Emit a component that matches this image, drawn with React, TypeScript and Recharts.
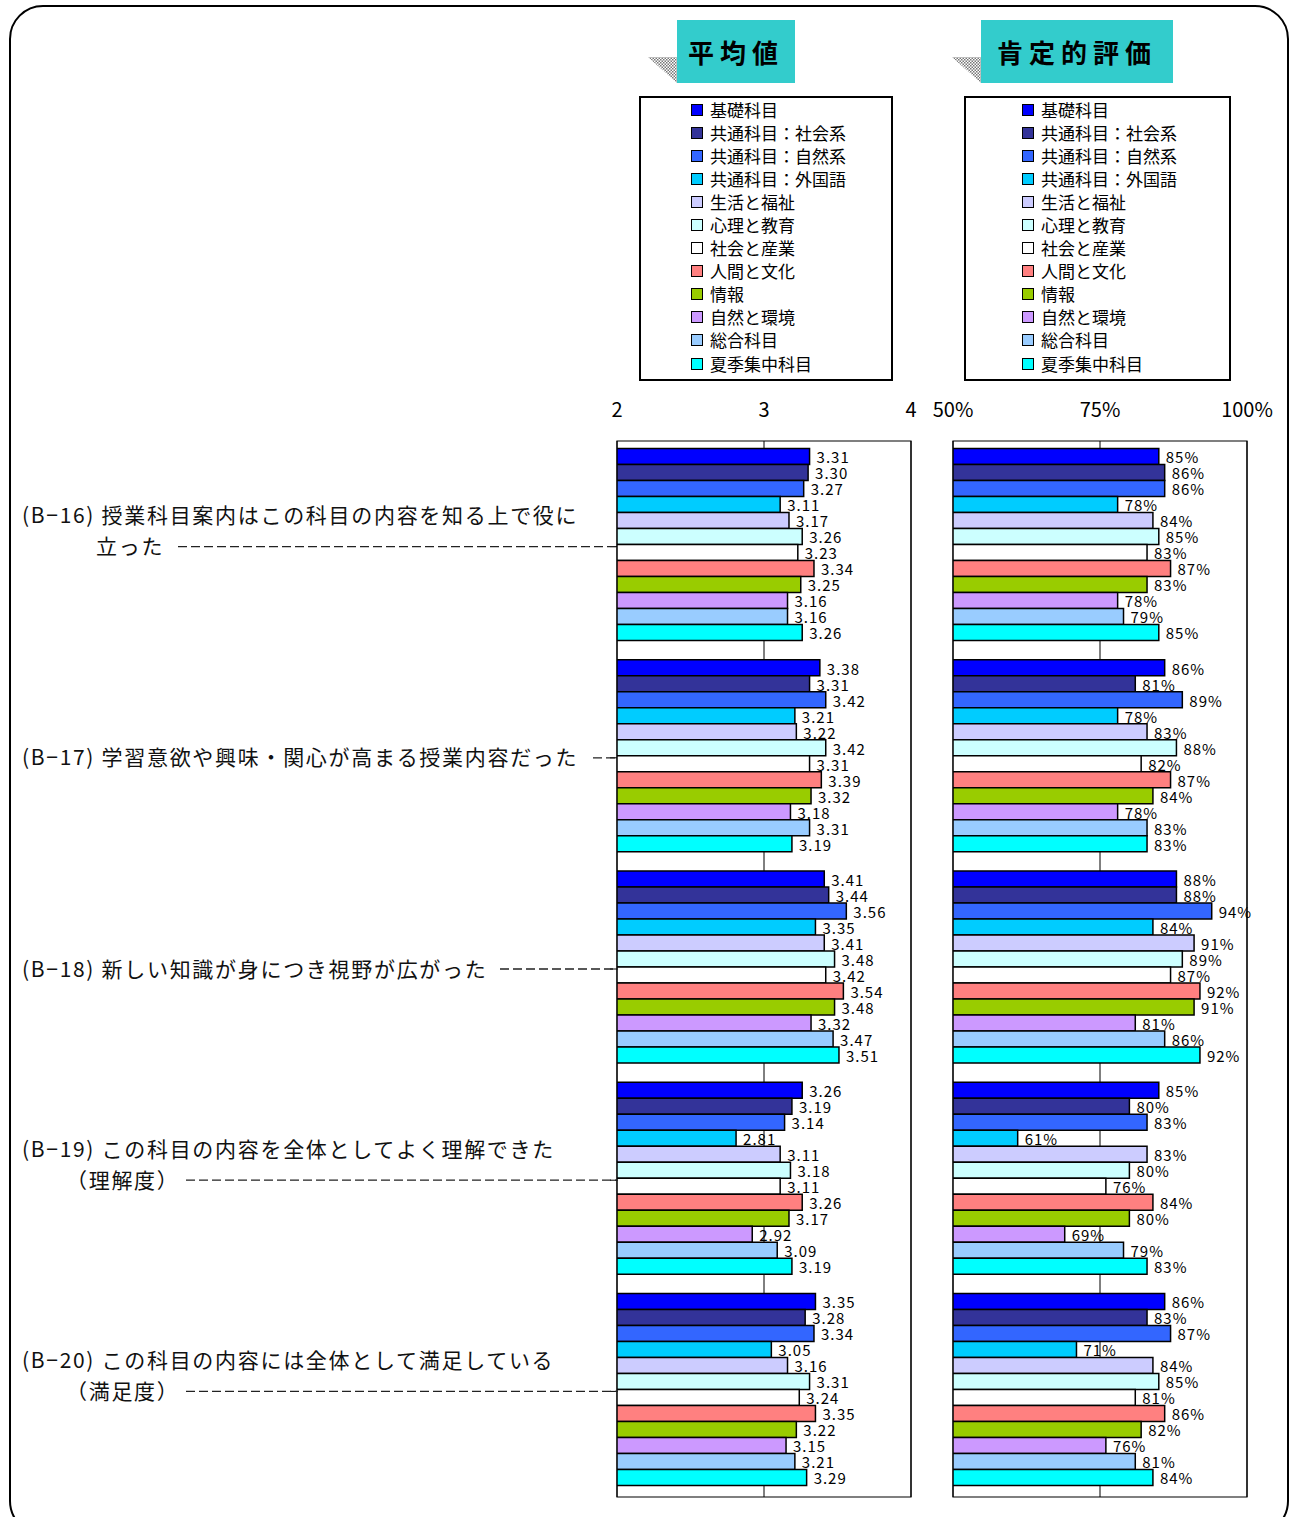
import {
  Bar,
  BarChart,
  CartesianGrid,
  LabelList,
  Legend,
  ReferenceArea,
  XAxis,
  YAxis,
} from "recharts";

const QUESTIONS = ["B-16", "B-17", "B-18", "B-19", "B-20"];
const QUESTION_LINES = [
  ["(B−16) 授業科目案内はこの科目の内容を知る上で役に", "立った"],
  ["(B−17) 学習意欲や興味・関心が高まる授業内容だった"],
  ["(B−18) 新しい知識が身につき視野が広がった"],
  ["(B−19) この科目の内容を全体としてよく理解できた", "（理解度）"],
  ["(B−20) この科目の内容には全体として満足している", "（満足度）"],
];

const SERIES = [
  "基礎科目",
  "共通科目：社会系",
  "共通科目：自然系",
  "共通科目：外国語",
  "生活と福祉",
  "心理と教育",
  "社会と産業",
  "人間と文化",
  "情報",
  "自然と環境",
  "総合科目",
  "夏季集中科目",
];

// 平均値 (one list per question, in SERIES order)
const MEAN_B16 = [3.31, 3.3, 3.27, 3.11, 3.17, 3.26, 3.23, 3.34, 3.25, 3.16, 3.16, 3.26];
const MEAN_B17 = [3.38, 3.31, 3.42, 3.21, 3.22, 3.42, 3.31, 3.39, 3.32, 3.18, 3.31, 3.19];
const MEAN_B18 = [3.41, 3.44, 3.56, 3.35, 3.41, 3.48, 3.42, 3.54, 3.48, 3.32, 3.47, 3.51];
const MEAN_B19 = [3.26, 3.19, 3.14, 2.81, 3.11, 3.18, 3.11, 3.26, 3.17, 2.92, 3.09, 3.19];
const MEAN_B20 = [3.35, 3.28, 3.34, 3.05, 3.16, 3.31, 3.24, 3.35, 3.22, 3.15, 3.21, 3.29];

// 肯定的評価 (%)
const POS_B16 = [85, 86, 86, 78, 84, 85, 83, 87, 83, 78, 79, 85];
const POS_B17 = [86, 81, 89, 78, 83, 88, 82, 87, 84, 78, 83, 83];
const POS_B18 = [88, 88, 94, 84, 91, 89, 87, 92, 91, 81, 86, 92];
const POS_B19 = [85, 80, 83, 61, 83, 80, 76, 84, 80, 69, 79, 83];
const POS_B20 = [86, 83, 87, 71, 84, 85, 81, 86, 82, 76, 81, 84];

const MEAN_TICKS = [2, 3, 4];
const POS_TICKS = [50, 75, 100];

const COLORS = [
  "#0000FF",
  "#333399",
  "#3366FF",
  "#00CCFF",
  "#CCCCFF",
  "#CCFFFF",
  "#FFFFFF",
  "#FF8080",
  "#99CC00",
  "#CC99FF",
  "#99CCFF",
  "#00FFFF",
];

const MEANS = [MEAN_B16, MEAN_B17, MEAN_B18, MEAN_B19, MEAN_B20];
const POSITIVE = [POS_B16, POS_B17, POS_B18, POS_B19, POS_B20];

function toRows(values: number[][]) {
  return QUESTIONS.map((q, qi) => {
    const row: Record<string, string | number> = { q };
    SERIES.forEach((_, si) => {
      row[`s${si}`] = values[qi][si];
    });
    return row;
  });
}

const meanRows = toRows(MEANS);
const posRows = toRows(POSITIVE);

const FONT = '"Noto Sans CJK JP", "Noto Sans", sans-serif';
const TOTAL_H = 1517;

// where the second line starts, and where the dashed leader begins
const INDENT = [96, 0, 0, 66, 66];
const DASH_FROM = [178, 593, 500, 186, 186];

function QuestionTick(props: any) {
  const { x, y, payload } = props;
  const idx = QUESTIONS.indexOf(payload.value);
  const lines = QUESTION_LINES[idx];
  const last = lines.length - 1;
  return (
    <g>
      {lines.map((t, i) => (
        <text
          key={i}
          x={i === 0 ? 22 : INDENT[idx]}
          y={y - (last - i) * 31}
          dy="0.36em"
          fontSize={21}
          letterSpacing={1.7}
          fontFamily={FONT}
          fill="#111"
        >
          {t}
        </text>
      ))}
      <line x1={DASH_FROM[idx]} x2={x + 8} y1={y} y2={y} stroke="#222" strokeWidth={1.3} strokeDasharray="9 4" />
    </g>
  );
}

function legendBox(width: number, padLeft: number) {
  return () => (
    <div
      style={{
        width,
        height: 285,
        boxSizing: "border-box",
        border: "2px solid #000",
        background: "#fff",
        paddingLeft: padLeft,
        paddingTop: 0,
        fontFamily: FONT,
        fontSize: 17,
        color: "#000",
      }}
    >
      {SERIES.map((s, i) => (
        <div key={s} style={{ display: "flex", alignItems: "center", height: 23.1 }}>
          <span
            style={{
              display: "inline-block",
              width: 10,
              height: 10,
              border: "1.5px solid #000",
              background: COLORS[i],
              marginRight: 7,
            }}
          />
          <span style={{ lineHeight: "20px" }}>{s}</span>
        </div>
      ))}
    </div>
  );
}

function Badge({ left, width, text }: { left: number; width: number; text: string }) {
  return (
    <>
      <svg style={{ position: "absolute", left: left - 29, top: 56 }} width={30} height={28}>
        <defs>
          <pattern id={`hatch${left}`} width="3" height="3" patternUnits="userSpaceOnUse">
            <rect width="3" height="3" fill="#fff" />
            <rect width="1.5" height="1.5" fill="#777" />
            <rect x="1.5" y="1.5" width="1.5" height="1.5" fill="#777" />
          </pattern>
        </defs>
        <polygon points="0,1 29,1 29,27" fill={`url(#hatch${left})`} />
      </svg>
      <div
        style={{
          position: "absolute",
          left,
          top: 20,
          width,
          height: 63,
          background: "#33CCCC",
          display: "flex",
          alignItems: "center",
          justifyContent: "center",
          fontFamily: FONT,
          fontWeight: 700,
          fontSize: 26,
          letterSpacing: 6,
          color: "#000",
        }}
      >
        {text}
      </div>
    </>
  );
}

const labelStyle = { fontSize: 15, fontFamily: FONT, fill: "#000", letterSpacing: 1 };
const tickStyle = { fontSize: 20, fontFamily: FONT, fill: "#000" };

export default function App() {
  return (
    <div
      style={{
        position: "absolute",
        left: 0,
        top: 0,
        width: 1295,
        height: TOTAL_H,
        overflow: "hidden",
        background: "#fff",
      }}
    >
      <div
        style={{
          position: "absolute",
          left: 9,
          top: 5,
          width: 1280,
          height: 1530,
          border: "2px solid #000",
          borderRadius: 34,
          boxSizing: "border-box",
        }}
      />

      <Badge left={677} width={118} text="平均値" />
      <Badge left={981} width={192} text="肯定的評価" />

      <div style={{ position: "absolute", left: 0, top: 0 }}>
        <BarChart
          width={930}
          height={TOTAL_H}
          data={meanRows}
          layout="vertical"
          margin={{ top: 380, right: 19, bottom: 20, left: 0 }}
          barGap={0}
          barCategoryGap="3.6%"
        >
          <CartesianGrid horizontal={false} stroke="#000" strokeWidth={1} />
          <XAxis
            type="number"
            orientation="top"
            domain={[2, 4]}
            ticks={MEAN_TICKS}
            allowDataOverflow
            height={61}
            tickSize={0}
            tickMargin={24}
            axisLine={false}
            tick={tickStyle}
          />
          <YAxis
            type="category"
            dataKey="q"
            width={617}
            axisLine={false}
            tickSize={7}
            tickMargin={0}
            tickLine={{ stroke: "#000" }}
            tick={<QuestionTick />}
          />
          <ReferenceArea x1={2} x2={4} fill="none" stroke="#000" strokeWidth={1.2} />
          <Legend
            layout="vertical"
            align="center"
            verticalAlign="middle"
            content={legendBox(254, 50)}
            wrapperStyle={{ top: 96, left: 639, width: 254, height: 285 }}
          />
          {SERIES.map((name, i) => (
            <Bar
              key={name}
              dataKey={`s${i}`}
              name={name}
              fill={COLORS[i]}
              stroke="#000"
              strokeWidth={1.5}
              isAnimationActive={false}
            >
              <LabelList
                dataKey={`s${i}`}
                position="right"
                offset={7}
                dy={1.5}
                style={labelStyle}
                formatter={(v: any) => Number(v).toFixed(2)}
              />
            </Bar>
          ))}
        </BarChart>
      </div>

      <div style={{ position: "absolute", left: 930, top: 0 }}>
        <BarChart
          width={365}
          height={TOTAL_H}
          data={posRows}
          layout="vertical"
          margin={{ top: 380, right: 48, bottom: 20, left: 23 }}
          barGap={0}
          barCategoryGap="3.6%"
        >
          <CartesianGrid horizontal={false} stroke="#000" strokeWidth={1} />
          <XAxis
            type="number"
            orientation="top"
            domain={[50, 100]}
            ticks={POS_TICKS}
            allowDataOverflow
            height={61}
            tickSize={0}
            tickMargin={24}
            axisLine={false}
            tick={tickStyle}
            tickFormatter={(v: number) => `${v}%`}
          />
          <YAxis type="category" dataKey="q" hide />
          <ReferenceArea x1={50} x2={100} fill="none" stroke="#000" strokeWidth={1.2} />
          <Legend
            layout="vertical"
            align="center"
            verticalAlign="middle"
            content={legendBox(267, 56)}
            wrapperStyle={{ top: 96, left: 34, width: 267, height: 285 }}
          />
          {SERIES.map((name, i) => (
            <Bar
              key={name}
              dataKey={`s${i}`}
              name={name}
              fill={COLORS[i]}
              stroke="#000"
              strokeWidth={1.5}
              isAnimationActive={false}
            >
              <LabelList
                dataKey={`s${i}`}
                position="right"
                offset={7}
                dy={1.5}
                style={labelStyle}
                formatter={(v: any) => `${v}%`}
              />
            </Bar>
          ))}
        </BarChart>
      </div>
    </div>
  );
}
